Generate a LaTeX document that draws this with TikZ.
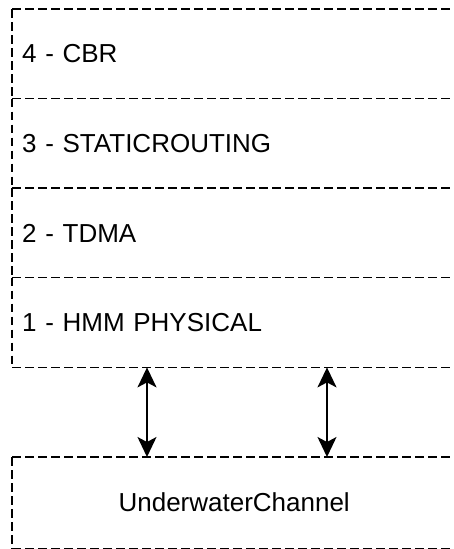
\documentclass[tikz,border=0pt]{standalone}
\usepackage{fontspec}
\setmainfont{Liberation Sans}
\usetikzlibrary{arrows.meta}
\begin{document}
\begin{tikzpicture}[x=1pt,y=-1pt,
  dsh/.style={draw=black, line width=1.8pt, dash pattern=on 8.5pt off 4.5pt},
  layer/.style={rectangle, anchor=north west, minimum height=89.5pt, inner ysep=0pt,
    inner xsep=10pt, text width=424pt, align=left,
    font=\fontsize{26}{30}\selectfont},
  chbox/.style={rectangle, anchor=north west, minimum height=91pt, minimum width=444pt,
    font=\fontsize{26}{30}\selectfont},
  arr/.style={line width=1.8pt, {Stealth[length=20pt,width=19pt,inset=5pt]}-{Stealth[length=20pt,width=19pt,inset=5pt]}}
]
\useasboundingbox (0,0) rectangle (454,549);
\node[layer] (l4) at (12,9) {4 - CBR};
\node[layer] (l3) at (12,98.5) {3 - STATICROUTING};
\node[layer] (l2) at (12,188) {2 - TDMA};
\node[layer] (l1) at (12,277.5) {1 - HMM PHYSICAL};
\node[chbox] (ch) at (12,457) {UnderwaterChannel};
\foreach \n in {l4,l3,l2,l1,ch}{
  \draw[dsh] (\n.north west) -- (\n.north east);
  \draw[dsh] (\n.north west) -- (\n.south west);
}
\draw[dsh] (l1.south west) -- (l1.south east);
\draw[dsh] (ch.south west) -- (ch.south east);
\draw[arr] (147,0 |- l1.south) -- (147,0 |- ch.north);
\draw[arr] (327,0 |- l1.south) -- (327,0 |- ch.north);
\end{tikzpicture}
\end{document}
